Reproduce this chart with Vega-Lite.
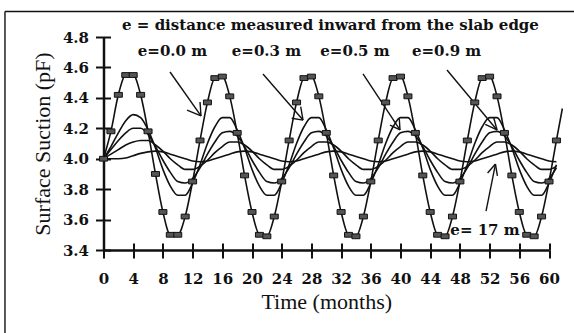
{
  "$schema": "https://vega.github.io/schema/vega-lite/v6.json",
  "autosize": {"type": "none"},
  "padding": {"left": 103.5, "top": 37, "right": 25, "bottom": 83},
  "width": 445.5,
  "height": 213,
  "background": "white",
  "config": {"view": {"stroke": null}},
  "datasets": {
    "curves": [
      {"t":0,"e00":4.00,"e03":4.00,"e05":4.00,"e09":4.00,"e17":4.000},
      {"t":1,"e00":4.18,"e03":4.08,"e05":4.06,"e09":4.03,"e17":4.000},
      {"t":2,"e00":4.42,"e03":4.17,"e05":4.12,"e09":4.06,"e17":4.000},
      {"t":3,"e00":4.55,"e03":4.25,"e05":4.17,"e09":4.09,"e17":4.005},
      {"t":4,"e00":4.55,"e03":4.29,"e05":4.20,"e09":4.11,"e17":4.020},
      {"t":5,"e00":4.42,"e03":4.27,"e05":4.20,"e09":4.12,"e17":4.035},
      {"t":6,"e00":4.18,"e03":4.19,"e05":4.16,"e09":4.12,"e17":4.045},
      {"t":7,"e00":3.90,"e03":4.07,"e05":4.08,"e09":4.09,"e17":4.050},
      {"t":8,"e00":3.65,"e03":3.93,"e05":3.99,"e09":4.05,"e17":4.045},
      {"t":9,"e00":3.50,"e03":3.82,"e05":3.91,"e09":4.00,"e17":4.030},
      {"t":10,"e00":3.50,"e03":3.76,"e05":3.85,"e09":3.96,"e17":4.015},
      {"t":11,"e00":3.62,"e03":3.76,"e05":3.84,"e09":3.93,"e17":4.000},
      {"t":12,"e00":3.85,"e03":3.84,"e05":3.87,"e09":3.93,"e17":3.985},
      {"t":13,"e00":4.12,"e03":3.96,"e05":3.94,"e09":3.95,"e17":3.980},
      {"t":14,"e00":4.37,"e03":4.10,"e05":4.03,"e09":3.99,"e17":3.985},
      {"t":15,"e00":4.53,"e03":4.21,"e05":4.11,"e09":4.04,"e17":4.000},
      {"t":16,"e00":4.54,"e03":4.27,"e05":4.17,"e09":4.08,"e17":4.015},
      {"t":17,"e00":4.41,"e03":4.27,"e05":4.18,"e09":4.11,"e17":4.030},
      {"t":18,"e00":4.17,"e03":4.19,"e05":4.15,"e09":4.11,"e17":4.045},
      {"t":19,"e00":3.89,"e03":4.07,"e05":4.08,"e09":4.09,"e17":4.050},
      {"t":20,"e00":3.65,"e03":3.93,"e05":3.99,"e09":4.05,"e17":4.045},
      {"t":21,"e00":3.50,"e03":3.82,"e05":3.91,"e09":4.00,"e17":4.030},
      {"t":22,"e00":3.49,"e03":3.76,"e05":3.85,"e09":3.96,"e17":4.015},
      {"t":23,"e00":3.62,"e03":3.76,"e05":3.84,"e09":3.93,"e17":4.000},
      {"t":24,"e00":3.85,"e03":3.84,"e05":3.87,"e09":3.93,"e17":3.985},
      {"t":25,"e00":4.12,"e03":3.96,"e05":3.94,"e09":3.95,"e17":3.980},
      {"t":26,"e00":4.37,"e03":4.10,"e05":4.03,"e09":3.99,"e17":3.985},
      {"t":27,"e00":4.53,"e03":4.21,"e05":4.11,"e09":4.04,"e17":4.000},
      {"t":28,"e00":4.54,"e03":4.27,"e05":4.17,"e09":4.08,"e17":4.015},
      {"t":29,"e00":4.41,"e03":4.27,"e05":4.18,"e09":4.11,"e17":4.030},
      {"t":30,"e00":4.17,"e03":4.19,"e05":4.15,"e09":4.11,"e17":4.045},
      {"t":31,"e00":3.89,"e03":4.07,"e05":4.08,"e09":4.09,"e17":4.050},
      {"t":32,"e00":3.65,"e03":3.93,"e05":3.99,"e09":4.05,"e17":4.045},
      {"t":33,"e00":3.50,"e03":3.82,"e05":3.91,"e09":4.00,"e17":4.030},
      {"t":34,"e00":3.49,"e03":3.76,"e05":3.85,"e09":3.96,"e17":4.015},
      {"t":35,"e00":3.62,"e03":3.76,"e05":3.84,"e09":3.93,"e17":4.000},
      {"t":36,"e00":3.85,"e03":3.84,"e05":3.87,"e09":3.93,"e17":3.985},
      {"t":37,"e00":4.12,"e03":3.96,"e05":3.94,"e09":3.95,"e17":3.980},
      {"t":38,"e00":4.37,"e03":4.10,"e05":4.03,"e09":3.99,"e17":3.985},
      {"t":39,"e00":4.53,"e03":4.21,"e05":4.11,"e09":4.04,"e17":4.000},
      {"t":40,"e00":4.54,"e03":4.27,"e05":4.17,"e09":4.08,"e17":4.015},
      {"t":41,"e00":4.41,"e03":4.27,"e05":4.18,"e09":4.11,"e17":4.030},
      {"t":42,"e00":4.17,"e03":4.19,"e05":4.15,"e09":4.11,"e17":4.045},
      {"t":43,"e00":3.89,"e03":4.07,"e05":4.08,"e09":4.09,"e17":4.050},
      {"t":44,"e00":3.65,"e03":3.93,"e05":3.99,"e09":4.05,"e17":4.045},
      {"t":45,"e00":3.50,"e03":3.82,"e05":3.91,"e09":4.00,"e17":4.030},
      {"t":46,"e00":3.49,"e03":3.76,"e05":3.85,"e09":3.96,"e17":4.015},
      {"t":47,"e00":3.62,"e03":3.76,"e05":3.84,"e09":3.93,"e17":4.000},
      {"t":48,"e00":3.85,"e03":3.84,"e05":3.87,"e09":3.93,"e17":3.985},
      {"t":49,"e00":4.12,"e03":3.96,"e05":3.94,"e09":3.95,"e17":3.980},
      {"t":50,"e00":4.37,"e03":4.10,"e05":4.03,"e09":3.99,"e17":3.985},
      {"t":51,"e00":4.53,"e03":4.21,"e05":4.11,"e09":4.04,"e17":4.000},
      {"t":52,"e00":4.54,"e03":4.27,"e05":4.17,"e09":4.08,"e17":4.015},
      {"t":53,"e00":4.41,"e03":4.27,"e05":4.18,"e09":4.11,"e17":4.030},
      {"t":54,"e00":4.17,"e03":4.19,"e05":4.15,"e09":4.11,"e17":4.045},
      {"t":55,"e00":3.89,"e03":4.07,"e05":4.08,"e09":4.09,"e17":4.050},
      {"t":56,"e00":3.65,"e03":3.93,"e05":3.99,"e09":4.05,"e17":4.045},
      {"t":57,"e00":3.50,"e03":3.82,"e05":3.91,"e09":4.00,"e17":4.030},
      {"t":58,"e00":3.49,"e03":3.76,"e05":3.85,"e09":3.96,"e17":4.015},
      {"t":59,"e00":3.62,"e03":3.76,"e05":3.84,"e09":3.93,"e17":4.000},
      {"t":60,"e00":3.85,"e03":3.84,"e05":3.87,"e09":3.93,"e17":3.985},
      {"t":61,"e00":4.12,"e03":3.96,"e05":3.94,"e09":3.95,"e17":3.980},
      {"t":61.8,"e00":4.33}
    ],
    "labels": [
      {"label":"e = distance measured inward from the slab edge","t":30.57,"v":4.843},
      {"label":"e=0.0 m","t":9.29,"v":4.675},
      {"label":"e=0.3 m","t":21.95,"v":4.675},
      {"label":"e=0.5 m","t":33.87,"v":4.675},
      {"label":"e=0.9 m","t":46.2,"v":4.675},
      {"label":"e= 17 m","t":51.38,"v":3.498}
    ],
    "segments": [
      {"x1":-13.27,"y1":4.968,"x2":70,"y2":4.968},
      {"x1":-13.27,"y1":4.968,"x2":-13.27,"y2":2.6},
      {"x1":8.96,"y1":4.570,"x2":13.13,"y2":4.281},
      {"x1":11.25,"y1":4.320,"x2":13.13,"y2":4.281},
      {"x1":13.0,"y1":4.373,"x2":13.13,"y2":4.281},
      {"x1":21.48,"y1":4.557,"x2":26.87,"y2":4.254},
      {"x1":25.35,"y1":4.266,"x2":26.87,"y2":4.254},
      {"x1":26.56,"y1":4.342,"x2":26.87,"y2":4.254},
      {"x1":34.95,"y1":4.557,"x2":39.93,"y2":4.189},
      {"x1":38.59,"y1":4.221,"x2":39.93,"y2":4.189},
      {"x1":39.84,"y1":4.261,"x2":39.93,"y2":4.189},
      {"x1":46.26,"y1":4.583,"x2":53.0,"y2":4.189},
      {"x1":52.55,"y1":4.271,"x2":53.0,"y2":4.189},
      {"x1":51.41,"y1":4.225,"x2":53.0,"y2":4.189},
      {"x1":51.52,"y1":3.656,"x2":52.79,"y2":3.965},
      {"x1":51.73,"y1":3.906,"x2":52.79,"y2":3.965},
      {"x1":53.05,"y1":3.887,"x2":52.79,"y2":3.965}
    ]
  },
  "resolve": {"axis": {"x": "independent", "y": "independent"}},
  "layer": [
    {
      "data": {"name": "segments"},
      "mark": {"type": "rule", "color": "#111", "strokeWidth": 1.4, "clip": false},
      "encoding": {
        "x": {"field": "x1", "type": "quantitative", "scale": {"domain": [0, 60]}, "axis": null},
        "y": {"field": "y1", "type": "quantitative", "scale": {"domain": [3.4, 4.8]}, "axis": null},
        "x2": {"field": "x2"},
        "y2": {"field": "y2"}
      }
    },
    {
      "data": {"name": "curves"},
      "transform": [{"fold": ["e00", "e03", "e05", "e09", "e17"], "as": ["curve", "suction"]}],
      "mark": {"type": "line", "color": "#111", "interpolate": "monotone", "clip": false},
      "encoding": {
        "x": {
          "field": "t", "type": "quantitative", "scale": {"domain": [0, 60]},
          "axis": {
            "orient": "bottom", "values": [0,4,8,12,16,20,24,28,32,36,40,44,48,52,56,60],
            "title": "Time (months)", "grid": false,
            "domainColor": "#111", "domainWidth": 2.5, "tickColor": "#111", "tickWidth": 2, "tickSize": 8,
            "labelFont": "DejaVu Serif", "labelFontSize": 15, "labelFontWeight": "bold", "labelColor": "#111", "labelPadding": 13,
            "labelFlush": false, "labelOverlap": false,
            "titleFont": "Liberation Serif", "titleFontSize": 22, "titleFontWeight": "normal", "titleColor": "#111", "titlePadding": 5
          }
        },
        "y": {
          "field": "suction", "type": "quantitative", "scale": {"domain": [3.4, 4.8]},
          "axis": {
            "orient": "left", "values": [3.4,3.6,3.8,4.0,4.2,4.4,4.6,4.8], "format": ".1f",
            "title": "Surface Suction (pF)", "grid": false,
            "domainColor": "#111", "domainWidth": 2.5, "tickColor": "#111", "tickWidth": 2, "tickSize": 8,
            "labelFont": "DejaVu Serif", "labelFontSize": 15, "labelFontWeight": "bold", "labelColor": "#111", "labelPadding": 7,
            "labelFlush": false, "labelOverlap": false,
            "titleFont": "Liberation Serif", "titleFontSize": 22, "titleFontWeight": "normal", "titleColor": "#111", "titlePadding": 8
          }
        },
        "detail": {"field": "curve", "type": "nominal"},
        "strokeWidth": {"field": "curve", "type": "ordinal", "scale": {"domain": ["e00", "e03", "e05", "e09", "e17"], "range": [1.6, 1.6, 1.6, 1.6, 3.2]}, "legend": null}
      }
    },
    {
      "data": {"name": "curves"},
      "transform": [{"filter": "datum.t <= 61"}],
      "mark": {"type": "point", "shape": "M-1,-0.6H1V0.6H-1Z", "size": 64, "filled": true, "fill": "#555", "stroke": "#111", "strokeWidth": 1, "opacity": 1, "clip": false},
      "encoding": {
        "x": {
          "field": "t", "type": "quantitative", "scale": {"domain": [0, 60]},
          "axis": {"orient": "bottom", "offset": -7, "values": [0,4,8,12,16,20,24,28,32,36,40,44,48,52,56,60], "title": null, "labels": false, "domain": false, "grid": false, "tickColor": "#111", "tickWidth": 2, "tickSize": 7}
        },
        "y": {
          "field": "e00", "type": "quantitative", "scale": {"domain": [3.4, 4.8]},
          "axis": {"orient": "left", "offset": -7, "values": [3.4,3.6,3.8,4.0,4.2,4.4,4.6,4.8], "title": null, "labels": false, "domain": false, "grid": false, "tickColor": "#111", "tickWidth": 2, "tickSize": 7}
        }
      }
    },
    {
      "data": {"name": "labels"},
      "mark": {"type": "text", "font": "DejaVu Serif", "fontSize": 15, "fontWeight": "bold", "color": "#111", "align": "center", "baseline": "alphabetic", "clip": false},
      "encoding": {
        "x": {"field": "t", "type": "quantitative", "scale": {"domain": [0, 60]}, "axis": null},
        "y": {"field": "v", "type": "quantitative", "scale": {"domain": [3.4, 4.8]}, "axis": null},
        "text": {"field": "label", "type": "nominal"}
      }
    }
  ]
}
